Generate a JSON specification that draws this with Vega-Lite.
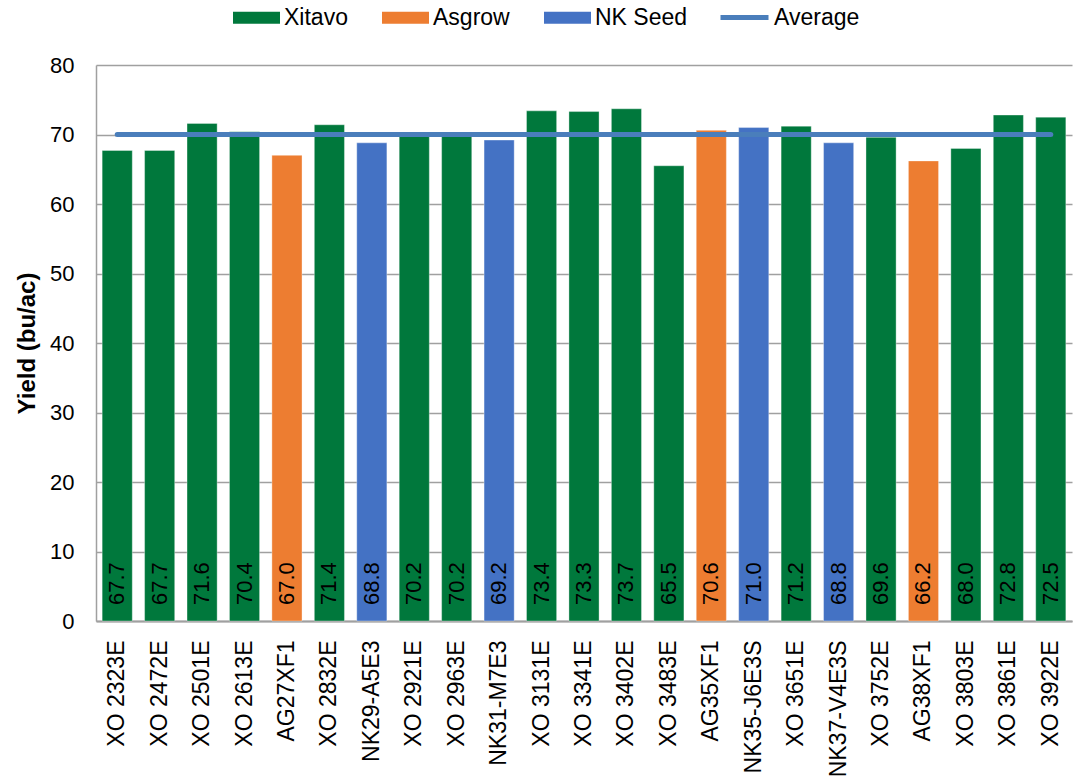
{
  "$schema": "https://vega.github.io/schema/vega-lite/v6.json",
  "width": 976,
  "height": 556,
  "autosize": {"type": "none"},
  "padding": {"left": 96, "top": 65, "right": 2, "bottom": 158},
  "background": "white",
  "config": {
    "view": {"stroke": null},
    "font": "Liberation Sans"
  },
  "data": {"values": [
    {"hybrid": "XO 2323E", "brand": "Xitavo", "yield": 67.7, "average": 70.0},
    {"hybrid": "XO 2472E", "brand": "Xitavo", "yield": 67.7, "average": 70.0},
    {"hybrid": "XO 2501E", "brand": "Xitavo", "yield": 71.6, "average": 70.0},
    {"hybrid": "XO 2613E", "brand": "Xitavo", "yield": 70.4, "average": 70.0},
    {"hybrid": "AG27XF1", "brand": "Asgrow", "yield": 67.0, "average": 70.0},
    {"hybrid": "XO 2832E", "brand": "Xitavo", "yield": 71.4, "average": 70.0},
    {"hybrid": "NK29-A5E3", "brand": "NK Seed", "yield": 68.8, "average": 70.0},
    {"hybrid": "XO 2921E", "brand": "Xitavo", "yield": 70.2, "average": 70.0},
    {"hybrid": "XO 2963E", "brand": "Xitavo", "yield": 70.2, "average": 70.0},
    {"hybrid": "NK31-M7E3", "brand": "NK Seed", "yield": 69.2, "average": 70.0},
    {"hybrid": "XO 3131E", "brand": "Xitavo", "yield": 73.4, "average": 70.0},
    {"hybrid": "XO 3341E", "brand": "Xitavo", "yield": 73.3, "average": 70.0},
    {"hybrid": "XO 3402E", "brand": "Xitavo", "yield": 73.7, "average": 70.0},
    {"hybrid": "XO 3483E", "brand": "Xitavo", "yield": 65.5, "average": 70.0},
    {"hybrid": "AG35XF1", "brand": "Asgrow", "yield": 70.6, "average": 70.0},
    {"hybrid": "NK35-J6E3S", "brand": "NK Seed", "yield": 71.0, "average": 70.0},
    {"hybrid": "XO 3651E", "brand": "Xitavo", "yield": 71.2, "average": 70.0},
    {"hybrid": "NK37-V4E3S", "brand": "NK Seed", "yield": 68.8, "average": 70.0},
    {"hybrid": "XO 3752E", "brand": "Xitavo", "yield": 69.6, "average": 70.0},
    {"hybrid": "AG38XF1", "brand": "Asgrow", "yield": 66.2, "average": 70.0},
    {"hybrid": "XO 3803E", "brand": "Xitavo", "yield": 68.0, "average": 70.0},
    {"hybrid": "XO 3861E", "brand": "Xitavo", "yield": 72.8, "average": 70.0},
    {"hybrid": "XO 3922E", "brand": "Xitavo", "yield": 72.5, "average": 70.0}
  ]},
  "encoding": {
    "x": {
      "field": "hybrid", "type": "nominal", "sort": null,
      "scale": {"paddingInner": 0.29, "paddingOuter": 0.145},
      "axis": {
        "title": null, "labelAngle": -90, "labelFontSize": 23, "labelColor": "#000000",
        "labelPadding": 19, "ticks": false, "domainColor": "#a0a0a0", "domainWidth": 2,
        "labelFont": "Liberation Sans"
      }
    }
  },
  "layer": [
    {
      "mark": {"type": "bar", "stroke": "#ffffff", "strokeOpacity": 0.35, "strokeWidth": 1},
      "encoding": {
        "y": {
          "field": "yield", "type": "quantitative",
          "scale": {"domain": [0, 80], "nice": false},
          "axis": {
            "title": "Yield (bu/ac)", "titleFontSize": 24, "titleFontWeight": "bold", "titleColor": "#000000",
            "titlePadding": 10, "labelFontSize": 22, "labelColor": "#000000", "labelPadding": 22,
            "ticks": false, "values": [0, 10, 20, 30, 40, 50, 60, 70, 80],
            "gridColor": "#a0a0a0", "gridWidth": 1.5, "domainColor": "#a0a0a0", "domainWidth": 1.5
          }
        },
        "color": {
          "field": "brand", "type": "nominal",
          "scale": {"domain": ["Xitavo", "Asgrow", "NK Seed"], "range": ["#00783c", "#ed7d31", "#4472c4"]},
          "legend": {
            "title": null, "orient": "none", "legendX": 137, "legendY": -71, "direction": "horizontal",
            "symbolType": "M-1,-0.255H1V0.255H-1Z", "symbolSize": 2209, "symbolStrokeWidth": 0,
            "labelFontSize": 23, "labelColor": "#000000", "labelOffset": 4, "columnPadding": 34
          }
        }
      }
    },
    {
      "mark": {"type": "text", "angle": -90, "align": "left", "baseline": "middle", "dx": 16, "fontSize": 22, "color": "#000000"},
      "encoding": {
        "y": {"datum": 0, "type": "quantitative"},
        "text": {"field": "yield", "type": "quantitative", "format": ".1f"}
      }
    },
    {
      "mark": {"type": "line", "strokeWidth": 5, "strokeCap": "round"},
      "encoding": {
        "y": {"field": "average", "type": "quantitative"},
        "stroke": {
          "datum": "Average",
          "scale": {"domain": ["Average"], "range": ["#4a7ebb"]},
          "legend": {
            "title": null, "orient": "none", "legendX": 622, "legendY": -74,
            "symbolType": "stroke", "symbolSize": 2304, "symbolStrokeWidth": 5,
            "labelFontSize": 23, "labelColor": "#000000", "labelOffset": 3
          }
        }
      }
    }
  ]
}
